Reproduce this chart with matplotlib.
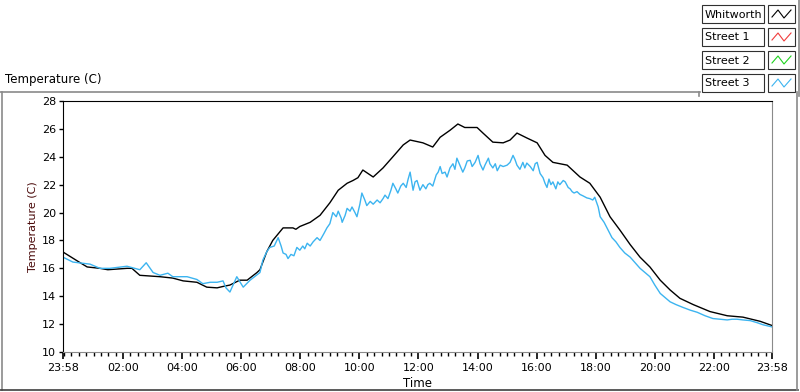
import numpy as np
import matplotlib.pyplot as plt
from matplotlib.ticker import MultipleLocator, FixedLocator
from matplotlib.patches import Rectangle
from matplotlib.lines import Line2D

# time in minutes since 23:58, temperature in C
whitworth_t = [0, 35, 49, 75, 91, 130, 140, 156, 197, 223, 244, 272, 292, 313, 325, 339,
               359, 374, 394, 400, 414, 426, 447, 467, 473, 481, 502, 522, 542, 559, 577, 589,
               599, 609, 630, 650, 670, 691, 705, 731, 751, 766, 786, 802, 816, 841, 853,
               873, 894, 908, 922, 942, 963, 979, 995, 1024, 1050, 1070, 1091, 1111, 1131,
               1152, 1172, 1192, 1213, 1233, 1253, 1280, 1314, 1349, 1381, 1416, 1440]
whitworth_v = [17.17, 16.4, 16.1, 16.0, 15.9, 16.0, 16.0, 15.5, 15.4, 15.3, 15.1, 15.0, 14.65,
               14.6, 14.7, 14.8, 15.15, 15.15, 15.7, 15.9, 17.2, 18.0, 18.9, 18.9, 18.8, 19.0,
               19.3, 19.8, 20.7, 21.6, 22.1, 22.3, 22.5, 23.05, 22.55, 23.2, 24.0, 24.85, 25.2,
               25.0, 24.7, 25.4, 25.9, 26.35, 26.1, 26.1, 25.7, 25.05, 25.0, 25.2, 25.7,
               25.35, 25.0, 24.1, 23.6, 23.4, 22.55, 22.1, 21.1, 19.7, 18.75, 17.7, 16.8,
               16.1, 15.15, 14.45, 13.85, 13.4, 12.9, 12.6, 12.5, 12.2, 11.9]

street3_t = [0, 20, 55, 75, 95, 130, 146, 156, 169, 183, 197, 213, 223, 252, 272, 284, 299,
             313, 325, 331, 339, 353, 366, 380, 400, 406, 414, 420, 429, 437, 443, 447, 453,
             457, 463, 469, 475, 481, 487, 491, 496, 502, 508, 516, 522, 530, 536, 542, 548,
             555, 559, 565, 567, 573, 577, 583, 587, 593, 597, 603, 607, 613, 617, 624, 630,
             638, 644, 650, 654, 660, 666, 670, 676, 680, 686, 691, 697, 701, 705, 709, 711,
             715, 719, 725, 731, 737, 741, 745, 751, 758, 762, 766, 770, 776, 780, 786, 792,
             796, 800, 806, 812, 816, 821, 827, 831, 837, 843, 847, 853, 857, 864, 867, 873,
             878, 882, 888, 894, 902, 908, 914, 918, 922, 928, 934, 938, 942, 949, 955, 959,
             963, 969, 975, 979, 983, 987, 991, 995, 1001, 1005, 1009, 1016, 1020, 1026,
             1030, 1034, 1038, 1044, 1050, 1056, 1064, 1070, 1076, 1080, 1087, 1091, 1099,
             1107, 1115, 1123, 1131, 1141, 1152, 1162, 1172, 1182, 1192, 1202, 1213, 1223,
             1233, 1245, 1259, 1274, 1288, 1304, 1320, 1334, 1349, 1359, 1369, 1381, 1396,
             1410, 1422, 1440]
street3_v = [16.8, 16.45, 16.3, 16.0, 16.0, 16.15, 16.0, 15.9, 16.4, 15.7, 15.5, 15.65, 15.4,
             15.4, 15.2, 14.9, 15.0, 15.0, 15.1, 14.6, 14.3, 15.4, 14.65, 15.15, 15.7, 16.6,
             17.2, 17.5, 17.6, 18.2, 17.6, 17.1, 17.0, 16.7, 17.0, 16.9, 17.5, 17.3, 17.6,
             17.4, 17.8, 17.6, 17.9, 18.2, 18.0, 18.5, 18.9, 19.2, 20.0, 19.7, 20.1, 19.6,
             19.3, 19.8, 20.3, 20.1, 20.4, 20.0, 19.7, 20.6, 21.4, 20.9, 20.5, 20.8, 20.6,
             20.9, 20.7, 21.0, 21.25, 21.0, 21.6, 22.1, 21.7, 21.4, 21.9, 22.1, 21.8, 22.4,
             22.9, 22.0, 21.6, 22.2, 22.3, 21.6, 22.0, 21.7, 22.0, 22.1, 21.9, 22.7, 22.9,
             23.3, 22.8, 22.9, 22.55, 23.2, 23.5, 23.1, 23.9, 23.4, 22.9, 23.2, 23.7, 23.75,
             23.3, 23.6, 24.1, 23.5, 23.05, 23.4, 23.9, 23.5, 23.2, 23.5, 23.0, 23.4, 23.3,
             23.4, 23.6, 24.1, 23.8, 23.4, 23.1, 23.6, 23.2, 23.55, 23.3, 23.0, 23.5, 23.6,
             22.8, 22.5, 22.1, 21.8, 22.4, 22.0, 22.2, 21.7, 22.2, 22.0, 22.3, 22.2, 21.8,
             21.7, 21.5, 21.4, 21.5, 21.3, 21.2, 21.05, 21.0, 20.9, 21.1, 20.4, 19.7, 19.3,
             18.75, 18.2, 17.9, 17.5, 17.1, 16.8, 16.4, 16.0, 15.7, 15.4, 14.8, 14.2, 13.9,
             13.6, 13.4, 13.2, 13.0, 12.85, 12.6, 12.4, 12.35, 12.3, 12.35, 12.35, 12.3, 12.25,
             12.1, 11.95, 11.8]

tick_pos = [0, 122, 242, 362, 482, 602, 722, 842, 962, 1082, 1202, 1322, 1440]
tick_labels = ['23:58', '02:00', '04:00', '06:00', '08:00', '10:00', '12:00',
               '14:00', '16:00', '18:00', '20:00', '22:00', '23:58']

legend_names = ['Whitworth', 'Street 1', 'Street 2', 'Street 3']
legend_colors = ['black', '#f03c3c', '#1ed21e', '#3cb4f0']

plt.rcParams['font.family'] = ['DejaVu Sans']
fig = plt.figure(figsize=(8, 3.92), dpi=100)
W, H = 800.0, 392.0

ax = fig.add_axes([63 / W, 1 - 352 / H, 709 / W, 251 / H])
ax.plot(whitworth_t, whitworth_v, color=legend_colors[0], lw=1.0)
ax.plot(street3_t, street3_v, color=legend_colors[3], lw=1.0)

ax.set_xlim(0, 1440)
ax.set_ylim(10, 28)
ax.yaxis.set_major_locator(MultipleLocator(2))
ax.xaxis.set_major_locator(FixedLocator(tick_pos))
ax.set_xticklabels(tick_labels)
ax.xaxis.set_minor_locator(MultipleLocator(15, offset=2))
ax.tick_params(axis='both', labelsize=8, direction='out', color='black')
ax.tick_params(axis='x', which='major', length=5, width=1.2, pad=3)
ax.tick_params(axis='x', which='minor', length=3, width=1)
ax.tick_params(axis='y', length=3, width=1, pad=2)
for side in ['top', 'left']:
    ax.spines[side].set_color('black')
for side in ['right', 'bottom']:
    ax.spines[side].set_color('#8a8a8a')
ax.set_ylabel('Temperature (C)', fontsize=8, color='#4a0a0a', labelpad=3)
ax.set_xlabel('Time', fontsize=8.5, labelpad=3)

# panel title and frame
fig.text(5 / W, 1 - 80 / H, 'Temperature (C)', fontsize=8.5, va='center', ha='left')
gray = '#8a8a8a'
fig.add_artist(Line2D([0, 700 / W], [1 - 92 / H, 1 - 92 / H], color=gray, lw=1.2))
fig.add_artist(Line2D([1.5 / W, 1.5 / W], [1 - 92 / H, 1 - 390 / H], color=gray, lw=1.2))
fig.add_artist(Line2D([0, 798 / W], [1 - 390 / H, 1 - 390 / H], color='#404040', lw=1.2))
fig.add_artist(Line2D([797 / W, 797 / W], [1 - 92 / H, 1 - 390 / H], color=gray, lw=1.2))
fig.add_artist(Line2D([799 / W, 799 / W], [1.0, 1 - 96 / H], color=gray, lw=1.2))
fig.add_artist(Line2D([699 / W, 699 / W], [1 - 92 / H, 1 - 96 / H], color=gray, lw=1.2))

# legend
for i, (name, col) in enumerate(zip(legend_names, legend_colors)):
    top = 5 + i * 23
    fig.add_artist(Rectangle((702 / W, 1 - (top + 18) / H), 62 / W, 18 / H,
                             transform=fig.transFigure, fc='white', ec='#303030', lw=0.8))
    fig.text(705 / W, 1 - (top + 9.5) / H, name, fontsize=8, va='center', ha='left')
    fig.add_artist(Rectangle((768 / W, 1 - (top + 18) / H), 27 / W, 18 / H,
                             transform=fig.transFigure, fc='white', ec='#303030', lw=0.8))
    zx = np.array([772, 778, 784, 791]) / W
    zy = 1 - (top + np.array([12, 5, 13, 5])) / H
    fig.add_artist(Line2D(zx, zy, color=col, lw=0.8))

fig.savefig('out.png', dpi=100)
